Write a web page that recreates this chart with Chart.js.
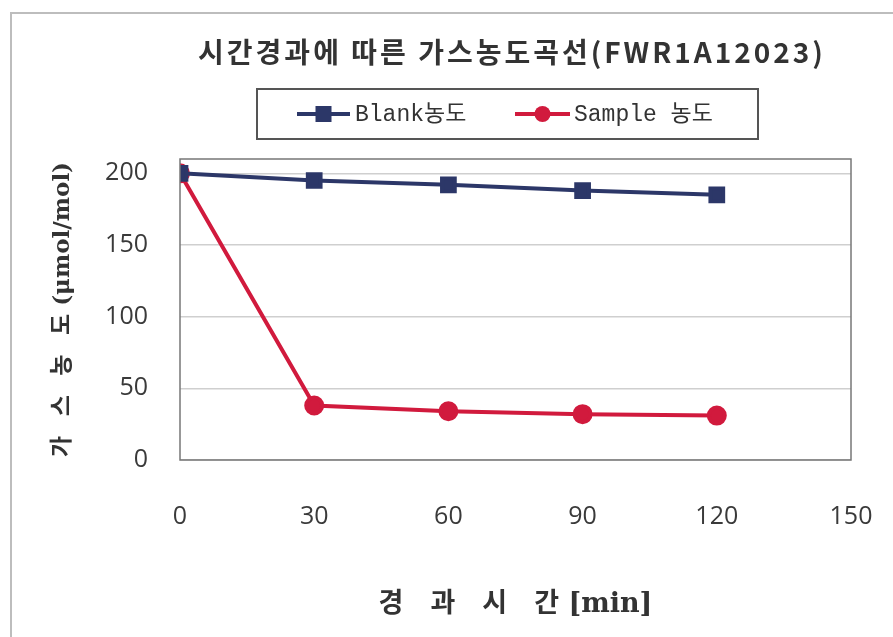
<!DOCTYPE html>
<html>
<head>
<meta charset="utf-8">
<script src="https://cdn.jsdelivr.net/npm/chart.js@4/dist/chart.umd.min.js"></script>
<style>
  html, body { margin: 0; padding: 0; background: #fff; }
</style>
</head>
<body>
<canvas id="chart" width="893" height="637"></canvas>
<script>
// --- data ---
const minutes = [0, 30, 60, 90, 120];
const blankConc = [200, 195, 192, 188, 185];
const sampleConc = [200, 38, 34, 32, 31];
const seriesNames = ['Blank농도', 'Sample 농도'];
const xTickValues = [0, 30, 60, 90, 120, 150];
const yTickValues = [0, 50, 100, 150, 200];
const chartTitle = '시간경과에 따른 가스농도곡선(FWR1A12023)';
const xTitle = '경\u2003과\u2003시\u2003간 [min]';
const yTitle = '가\u2002 스\u2002 농\u2002 도 (μmol/mol)';

// --- colours ---
const colors = {
  blank: '#2c3768',
  sample: '#d11a3d',
  grid: '#cfcfcf',
  border: '#777777',
  text: '#3a3a3a',
  frame: '#bdbdbd'
};

const toPoints = (ys) => minutes.map((m, i) => ({ x: m, y: ys[i] }));

// frame, plot border, title and boxed legend
const decorPlugin = {
  id: 'decor',
  beforeDraw(chart) {
    const { ctx } = chart;
    ctx.save();
    ctx.fillStyle = '#fff';
    ctx.fillRect(0, 0, chart.width, chart.height);
    ctx.strokeStyle = colors.frame;
    ctx.lineWidth = 2;
    ctx.strokeRect(11, 13, 1000, 1000);
    ctx.restore();
  },
  afterDatasetsDraw(chart) {
    const { ctx, chartArea: a } = chart;
    ctx.save();
    ctx.strokeStyle = colors.border;
    ctx.lineWidth = 1.5;
    ctx.strokeRect(a.left, a.top, a.right - a.left, a.bottom - a.top);
    ctx.restore();
  },
  afterDraw(chart) {
    const { ctx } = chart;
    ctx.save();
    // title (reference is a bit stretched, so space the letters out)
    ctx.fillStyle = '#333';
    ctx.font = 'bold 28px "Noto Sans CJK KR"';
    ctx.letterSpacing = '3px';
    ctx.textAlign = 'center';
    ctx.textBaseline = 'middle';
    ctx.fillText(chartTitle, 512, 52);
    ctx.letterSpacing = '0px';

    // legend box
    ctx.strokeStyle = '#555';
    ctx.lineWidth = 2;
    ctx.strokeRect(257, 89, 501, 50);
    const items = [
      { x0: 297, x1: 350, tx: 355, ds: chart.data.datasets[0] },
      { x0: 515, x1: 570, tx: 574, ds: chart.data.datasets[1] }
    ];
    const y = 114;
    items.forEach(it => {
      ctx.strokeStyle = it.ds.borderColor;
      ctx.lineWidth = 4;
      ctx.beginPath();
      ctx.moveTo(it.x0, y);
      ctx.lineTo(it.x1, y);
      ctx.stroke();
      const cx = (it.x0 + it.x1) / 2;
      ctx.fillStyle = it.ds.backgroundColor;
      if (it.ds.pointStyle === 'rect') {
        ctx.fillRect(cx - 8, y - 8, 16, 16);
      } else {
        ctx.beginPath();
        ctx.arc(cx, y, 8, 0, Math.PI * 2);
        ctx.fill();
      }
      ctx.fillStyle = '#333';
      ctx.font = '23px "Liberation Mono", "Noto Sans CJK KR"';
      ctx.textAlign = 'left';
      ctx.fillText(it.ds.label, it.tx, y + 1);
    });
    ctx.restore();
  }
};

new Chart(document.getElementById('chart'), {
  type: 'line',
  data: {
    datasets: [
      {
        label: seriesNames[0],
        data: toPoints(blankConc),
        borderColor: colors.blank,
        backgroundColor: colors.blank,
        borderWidth: 4,
        pointStyle: 'rect',
        pointRadius: 9,
        pointHoverRadius: 9,
        tension: 0
      },
      {
        label: seriesNames[1],
        data: toPoints(sampleConc),
        borderColor: colors.sample,
        backgroundColor: colors.sample,
        borderWidth: 4,
        pointStyle: 'circle',
        pointRadius: 8,
        pointHoverRadius: 8,
        tension: 0
      }
    ]
  },
  options: {
    responsive: false,
    animation: false,
    layout: { padding: { top: 159, right: 42, bottom: 0, left: 0 } },
    plugins: {
      legend: { display: false },
      title: { display: false },
      tooltip: { enabled: false }
    },
    scales: {
      x: {
        type: 'linear',
        min: 0,
        max: 150,
        afterBuildTicks: (s) => { s.ticks = xTickValues.map(v => ({ value: v })); },
        afterFit: (s) => { s.height = 177; s.paddingLeft = 0; s.paddingRight = 0; },
        grid: { display: false, drawTicks: false },
        border: { display: false },
        ticks: {
          padding: 42,
          color: colors.text,
          font: { family: '"Open Sans"', size: 25 }
        },
        title: {
          display: true,
          text: xTitle,
          color: '#333',
          font: { family: '"DejaVu Serif", "Noto Sans CJK KR"', size: 27, weight: 'bold' },
          padding: { top: 0, bottom: 16 }
        }
      },
      y: {
        min: 0,
        max: 210,
        afterBuildTicks: (s) => { s.ticks = yTickValues.map(v => ({ value: v })); },
        afterFit: (s) => { s.width = 180; },
        grid: { color: colors.grid, lineWidth: 1.5, drawTicks: false },
        border: { display: false },
        ticks: {
          padding: 32,
          color: colors.text,
          font: { family: '"Open Sans"', size: 25 }
        },
        title: {
          display: true,
          text: yTitle,
          color: '#333',
          font: { family: '"DejaVu Serif", "Noto Sans CJK KR"', size: 23, weight: 'bold' },
          padding: { top: 49, bottom: 0 }
        }
      }
    }
  },
  plugins: [decorPlugin]
});
</script>
</body>
</html>
